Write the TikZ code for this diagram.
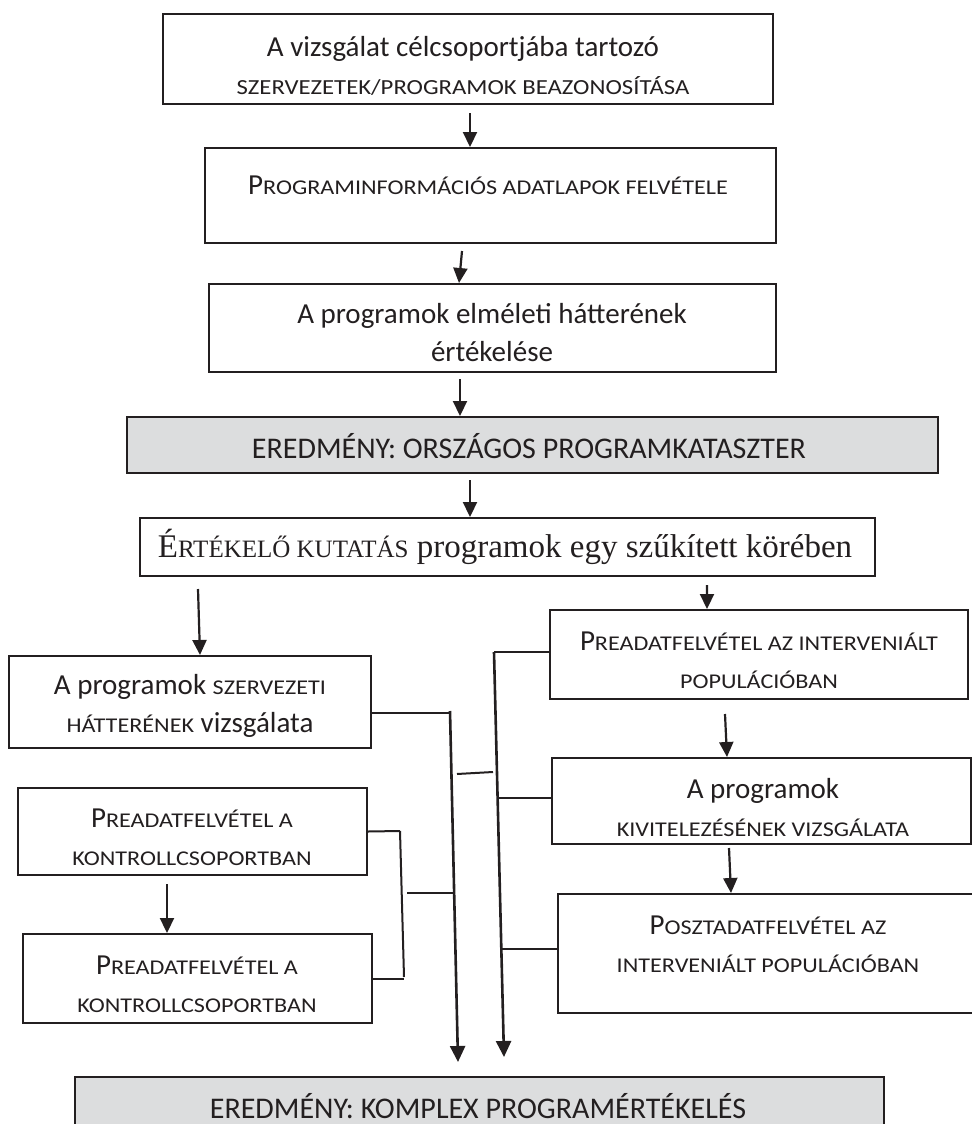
\documentclass[tikz,border=0pt]{standalone}
\usepackage{fontspec}
\setmainfont{Carlito}
\newfontfamily\capsfont[FakeStretch=1.15]{Carlito}
\newfontfamily\serifface{Liberation Serif}
\usetikzlibrary{arrows.meta,calc}
\definecolor{ink}{HTML}{231F20}
\definecolor{shade}{HTML}{DCDDDE}
% text sizes: body text and faked small capitals
\newcommand\txtsz{\fontsize{29bp}{38bp}\selectfont}
\newcommand\smc[2][21bp]{{\capsfont\fontsize{#1}{38bp}\selectfont #2}}
\newcommand\ttsz{\serifface\fontsize{33bp}{38bp}\selectfont}
\newcommand\tsmc[1]{{\fontsize{25bp}{38bp}\selectfont #1}}
\newcommand\capsz{\fontsize{30bp}{36bp}\selectfont}
\begin{document}
\begin{tikzpicture}[x=1bp,y=-1bp,
  box/.style={draw=ink, line width=2bp, fill=white, rectangle, inner sep=0pt},
  gbox/.style={box, fill=shade},
  lbl/.style={align=center, inner sep=0pt, text=ink, font=\txtsz},
  arr/.style={draw=ink, line width=2.2bp, -{Triangle[length=15bp,width=14bp]}},
  wire/.style={draw=ink, line width=2bp},
  trunk/.style={draw=ink, line width=2.6bp, -{Triangle[length=16bp,width=15bp]}}]
\useasboundingbox (0,0) rectangle (972,1124);
\clip (0,0) rectangle (972,1124);

% ---- boxes ----
\node[box, minimum width=610bp, minimum height=90bp] (b1) at (468,59) {};
\node[box, minimum width=571bp, minimum height=95bp] (b2) at (490.5,195.5) {};
\node[box, minimum width=567bp, minimum height=88bp] (b3) at (492.5,328) {};
\node[gbox, minimum width=811bp, minimum height=56bp] (g1) at (532.5,445) {};
\node[box, minimum width=735bp, minimum height=58bp] (e1) at (507.5,547) {};
\node[box, minimum width=362bp, minimum height=92bp] (L1) at (190,702) {};
\node[box, minimum width=349bp, minimum height=87bp] (L2) at (192.5,831.5) {};
\node[box, minimum width=349bp, minimum height=89bp] (L3) at (197.5,978.5) {};
\node[box, minimum width=418bp, minimum height=89bp] (R1) at (759,654.5) {};
\node[box, minimum width=419bp, minimum height=86bp] (R2) at (761.5,801) {};
\node[box, minimum width=420bp, minimum height=119bp] (R3) at (768,953.5) {};
\node[gbox, minimum width=809bp, minimum height=63bp] (B) at (479.5,1108.5) {};

% ---- texts ----
\node[lbl] (t1) at (463,65.5) {A vizsgálat célcsoportjába tartozó\\\smc[21.5bp]{SZERVEZETEK/PROGRAMOK BEAZONOSÍTÁSA}};
\node[lbl] (t2) at (488,185) {P\smc{ROGRAMINFORMÁCIÓS ADATLAPOK FELVÉTELE}};
\node[lbl] (t3) at (492,333) {A programok elméleti hátterének\\értékelése};
\node[lbl, font=\capsz] (tg) at (529,446) {EREDMÉNY: ORSZÁGOS PROGRAMKATASZTER};
\node[lbl, font=\ttsz] (te) at (505,547) {É\tsmc{RTÉKELŐ KUTATÁS} programok egy szűkített körében};
\node[lbl] (tL1) at (190,706) {A programok \smc{SZERVEZETI}\\\smc{HÁTTERÉNEK} vizsgálata};
\node[lbl] (tL2) at (192,837) {P\smc{READATFELVÉTEL A}\\\smc{KONTROLLCSOPORTBAN}};
\node[lbl] (tL3) at (197,984) {P\smc{READATFELVÉTEL A}\\\smc{KONTROLLCSOPORTBAN}};
\node[lbl] (tR1) at (759,660) {P\smc{READATFELVÉTEL AZ INTERVENIÁLT}\\\smc{POPULÁCIÓBAN}};
\node[lbl] (tR2) at (763,807) {A programok\\\smc{KIVITELEZÉSÉNEK VIZSGÁLATA}};
\node[lbl] (tR3) at (768,944) {P\smc{OSZTADATFELVÉTEL AZ}\\\smc{INTERVENIÁLT POPULÁCIÓBAN}};
\node[lbl, font=\capsz] (tB) at (478,1106) {EREDMÉNY: KOMPLEX PROGRAMÉRTÉKELÉS};

% ---- arrows along the main sequence ----
\draw[arr] ($(b1.south)+(2,8)$) -- ($(b2.north)+(-20.5,0)$);
\draw[arr] ($(b2.south)+(-28.5,7)$) -- ($(b3.north)+(-33.5,0)$);
\draw[arr] ($(b3.south)+(-32.5,6)$) -- ($(g1.north)+(-72.5,0)$);
\draw[arr] ($(g1.south)+(-62.5,6)$) -- ($(e1.north)+(-37.5,0)$);
\draw[arr] ($(e1.south)+(-309.5,12)$) -- ($(L1.north)+(10,0)$);
\draw[arr] ($(e1.south)+(199.5,8)$) -- ($(R1.north)+(-52,0)$);
\draw[arr] ($(R1.south)+(-34,14)$) -- ($(R2.north)+(-34.5,0)$);
\draw[arr] ($(R2.south)+(-32.5,3)$) -- ($(R3.north)+(-37,0)$);
\draw[arr] ($(L2.south)+(-25.5,8)$) -- ($(L3.north)+(-30.5,0)$);

% ---- collecting lines into the final result ----
\coordinate (tl0) at (450,711);
\coordinate (tl1) at ($(B.north)+(-21.5,-14)$);
\coordinate (tr0) at (494,652);
\coordinate (tr1) at ($(B.north)+(24.5,-19)$);
\draw[trunk] (tl0) -- (tl1);
\draw[trunk] (tr0) -- (tr1);

% left side joints
\draw[wire] (L1.east |- 0,713) -- (450,713);
\coordinate (kA) at (400,831);
\coordinate (kB) at (404,979);
\draw[wire] (L2.east) -- (kA);
\draw[wire] (kA) -- ($(kB)+(0,-2)$);
\draw[wire] (L3.east |- kB) -- (kB);
\coordinate (km) at (454,893);
\draw[wire] (407,893) -- (km);
% link between the two collecting lines
\coordinate (ja) at (457,774);
\coordinate (jb) at (493,772);
\draw[wire] (ja) -- (jb);

% right side joints
\coordinate (jR2) at (497.6,798);
\coordinate (jR3) at (501.3,949);
\draw[wire] (tr0) -- (R1.west |- tr0);
\draw[wire] (jR2) -- (R2.west |- jR2);
\draw[wire] (jR3) -- (R3.west |- jR3);
\end{tikzpicture}
\end{document}
